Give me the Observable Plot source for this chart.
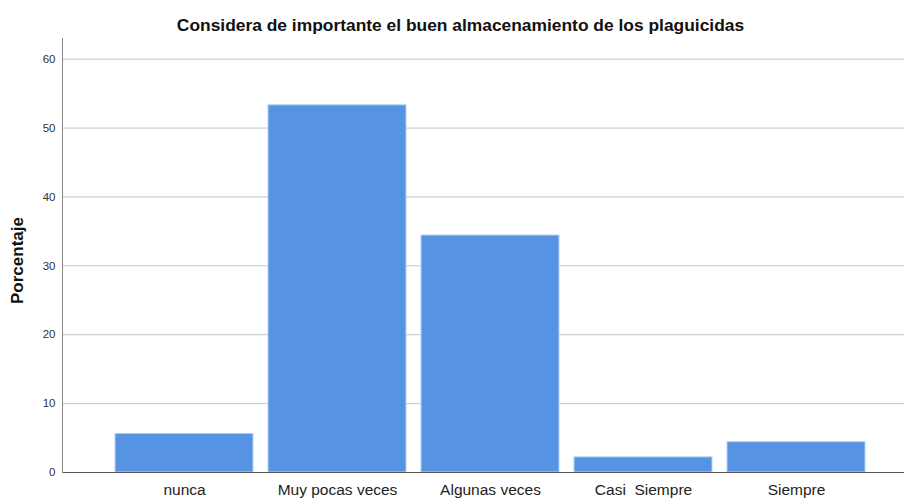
<!DOCTYPE html>
<html>
<head>
<meta charset="utf-8">
<script src="https://cdn.jsdelivr.net/npm/d3@7"></script>
<script src="https://cdn.jsdelivr.net/npm/@observablehq/plot@0.6"></script>
<style>
  html, body { margin: 0; padding: 0; background: #fff; }
  svg text { white-space: pre; }
</style>
</head>
<body>
<div id="chart"></div>
<script>
const title = "Considera de importante el buen almacenamiento de los plaguicidas";
const yLabel = "Porcentaje";
const categories = ["nunca", "Muy pocas veces", "Algunas veces", "Casi  Siempre", "Siempre"];
const percentages = [5.6, 53.3, 34.4, 2.2, 4.4];
const yTicks = [0, 10, 20, 30, 40, 50, 60];

const data = categories.map((c, i) => ({cat: c, pct: percentages[i]}));

const chart = Plot.plot({
  width: 904,
  height: 498,
  marginTop: 38,
  marginBottom: 26,
  marginLeft: 62,
  marginRight: 0,
  style: {fontFamily: "'Liberation Sans', Arial, sans-serif", background: "#fff", color: "#222"},
  x: {domain: categories, range: [97, 882], padding: 0.1, label: null},
  y: {domain: [0, 63], label: null},
  marks: [
    Plot.gridY(yTicks.filter(d => d > 0), {stroke: "#c4c4c4", strokeOpacity: 1}),
    Plot.barY(data, {x: "cat", y: "pct", fill: "#5694e3", stroke: "#b4d0f4", strokeWidth: 1}),
    Plot.ruleY([0], {stroke: "#555"}),
    Plot.frame({anchor: "left", stroke: "#888"}),
    Plot.axisY({ticks: yTicks, tickSize: 0, tickPadding: 7, fontSize: 11.5, label: null, color: "#333"}),
    Plot.axisX({tickSize: 0, tickPadding: 11, fontSize: 15.5, label: null, color: "#222",
      style: {letterSpacing: "1.1px"}}),
    Plot.text([yLabel], {frameAnchor: "left", textAnchor: "middle", rotate: -90, dx: -45, dy: 5,
      fontWeight: "bold", fontSize: 17, fill: "#111", style: {letterSpacing: "0.6px"}}),
    Plot.text([title], {frameAnchor: "top", dx: -23, dy: -20, fontWeight: "bold", fontSize: 17.4, fill: "#111"})
  ]
});
document.getElementById("chart").append(chart);
</script>
</body>
</html>
